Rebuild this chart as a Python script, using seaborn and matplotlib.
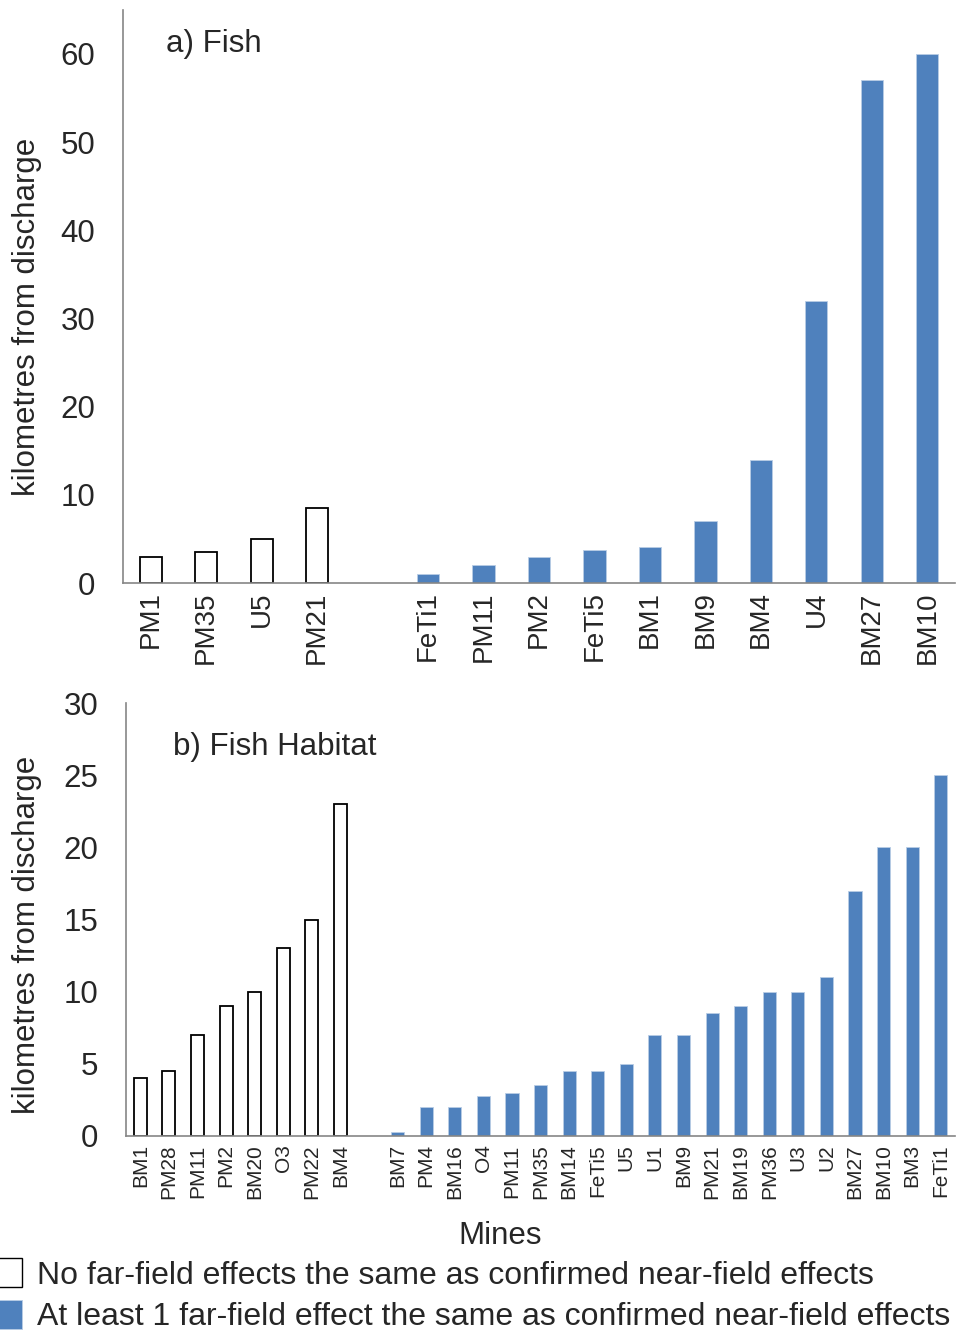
import numpy as np
import pandas as pd
import seaborn as sns
import matplotlib.pyplot as plt
from matplotlib.patches import Patch

OUTPUT_PATH = "out.png"

# a) Fish
fish_none_mines = ["PM1", "PM35", "U5", "PM21"]
fish_none_km = [3, 3.5, 5, 8.5]
fish_some_mines = ["FeTi1", "PM11", "PM2", "FeTi5", "BM1", "BM9", "BM4", "U4", "BM27", "BM10"]
fish_some_km = [1, 2, 3, 3.8, 4.1, 7, 14, 32, 57, 60]

# b) Fish Habitat
hab_none_mines = ["BM1", "PM28", "PM11", "PM2", "BM20", "O3", "PM22", "BM4"]
hab_none_km = [4, 4.5, 7, 9, 10, 13, 15, 23]
hab_some_mines = ["BM7", "PM4", "BM16", "O4", "PM11", "PM35", "BM14", "FeTi5", "U5", "U1",
                  "BM9", "PM21", "BM19", "PM36", "U3", "U2", "BM27", "BM10", "BM3", "FeTi1"]
hab_some_km = [0.25, 2, 2, 2.8, 3, 3.5, 4.5, 4.5, 5, 7, 7, 8.5, 9, 10, 10, 11, 17, 20, 20, 25]

NONE_LABEL = "No far-field effects the same as confirmed near-field effects"
SOME_LABEL = "At least 1 far-field effect the same as confirmed near-field effects"
BLUE = "#4F81BD"
AXIS_GREY = "#868686"
FONT_SIZE = 22.5


def build_frame(none_mines, none_km, some_mines, some_km):
    # one empty slot between the two groups, like the original chart
    labels = list(none_mines) + [""] + list(some_mines)
    rows = []
    for i, (m, v) in enumerate(zip(none_mines, none_km)):
        rows.append({"slot": i, "mine": m, "km": v, "group": "none"})
    offset = len(none_mines) + 1
    for i, (m, v) in enumerate(zip(some_mines, some_km)):
        rows.append({"slot": offset + i, "mine": m, "km": v, "group": "some"})
    return pd.DataFrame(rows), labels


def draw_panel(ax, df, labels, ymax, yticks, bar_width, xtick_size, title, title_xy):
    n = len(labels)
    sns.barplot(
        data=df, x="slot", y="km", hue="group", order=list(range(n)),
        hue_order=["none", "some"], palette={"none": "white", "some": BLUE},
        dodge=False, width=bar_width, saturation=1, legend=False, ax=ax,
        errorbar=None,
    )
    for p in ax.patches:
        fc = p.get_facecolor()
        if fc[0] > 0.9 and fc[1] > 0.9:
            p.set_edgecolor("black")
            p.set_linewidth(1.3)
        else:
            p.set_edgecolor("#B9CDE5")
            p.set_linewidth(0.6)

    ax.set_xlim(-0.5, n - 0.5)
    ax.set_ylim(0, ymax)
    ax.set_yticks(yticks)
    ax.tick_params(axis="y", labelsize=FONT_SIZE, length=6, color=AXIS_GREY, width=1, pad=14)
    ax.set_xticks(range(n))
    ax.set_xticklabels(labels, rotation=90, fontsize=xtick_size)
    ax.tick_params(axis="x", which="major", length=0, pad=6)
    ax.set_xticks(np.arange(-0.5, n, 1), minor=True)
    ax.tick_params(axis="x", which="minor", length=7, color=AXIS_GREY, width=1, direction="out")
    for side in ["top", "right"]:
        ax.spines[side].set_visible(False)
    for side in ["left", "bottom"]:
        ax.spines[side].set_color(AXIS_GREY)
        ax.spines[side].set_linewidth(1.2)
    ax.set_xlabel("")
    ax.set_ylabel("kilometres from discharge", fontsize=FONT_SIZE)
    ax.text(title_xy[0], title_xy[1], title, transform=ax.transAxes, fontsize=FONT_SIZE,
            va="center", ha="left")


def main() -> None:
    sns.set_theme(style="white")
    plt.rcParams["font.family"] = ["Liberation Sans", "DejaVu Sans"]

    fig = plt.figure(figsize=(9.57, 13.33), dpi=100)
    ax_a = fig.add_axes([0.1285, 0.5626, 0.8695, 0.43])
    ax_b = fig.add_axes([0.1317, 0.1478, 0.8663, 0.3248])

    df_a, labels_a = build_frame(fish_none_mines, fish_none_km, fish_some_mines, fish_some_km)
    draw_panel(ax_a, df_a, labels_a, 65, range(0, 61, 10), 0.4, 20, "a) Fish", (0.052, 0.94))
    ax_a.yaxis.set_label_coords(-0.097, 0.464)

    df_b, labels_b = build_frame(hab_none_mines, hab_none_km, hab_some_mines, hab_some_km)
    draw_panel(ax_b, df_b, labels_b, 30, range(0, 31, 5), 0.46, 15, "b) Fish Habitat", (0.057, 0.898))
    ax_b.yaxis.set_label_coords(-0.101, 0.464)

    fig.text(0.5225, 0.0725, "Mines", fontsize=FONT_SIZE, ha="center", va="center")

    handles = [Patch(facecolor="white", edgecolor="black", linewidth=1),
               Patch(facecolor=BLUE, edgecolor="#B9CDE5", linewidth=0.6)]
    fig.legend(handles, [NONE_LABEL, SOME_LABEL], loc="lower left",
               bbox_to_anchor=(-0.01, -0.002), frameon=False, fontsize=23,
               handlelength=0.9, handleheight=1.0, handletextpad=0.45,
               labelspacing=0.3, borderaxespad=0, borderpad=0.1)

    fig.savefig(OUTPUT_PATH, dpi=100)
    plt.close(fig)


if __name__ == "__main__":
    main()
